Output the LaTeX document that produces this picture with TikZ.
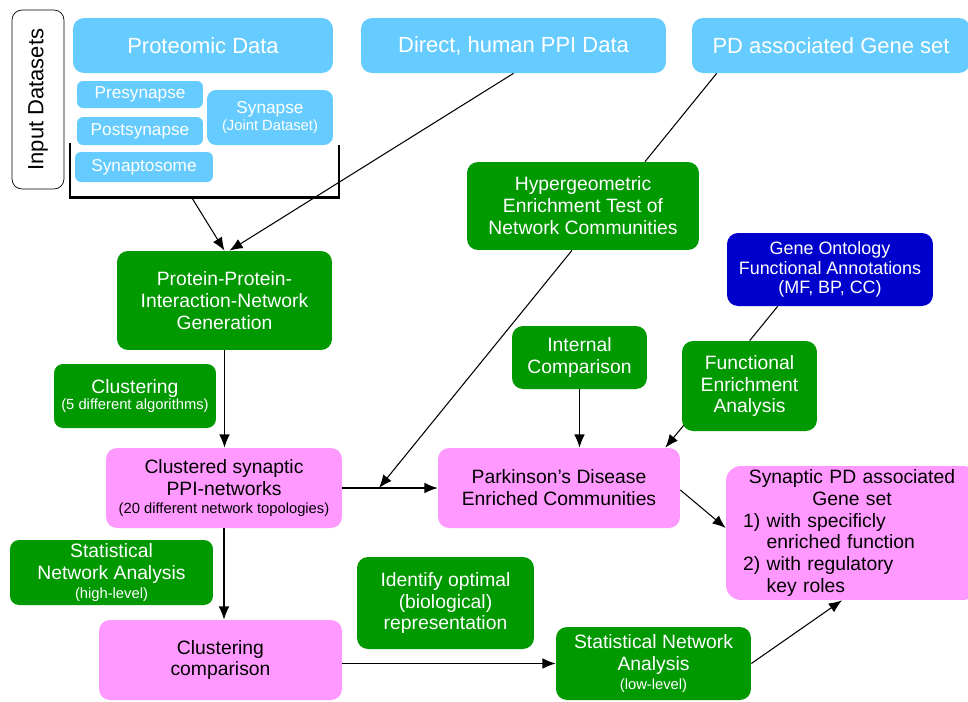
\documentclass[tikz,border=0pt]{standalone}
\usepackage{fontspec}
\setmainfont{Liberation Sans}
\usepackage{xcolor}
\usepackage{tikz}
\usetikzlibrary{arrows.meta,calc,positioning}
\definecolor{inblue}{HTML}{66CCFF}
\definecolor{stepgreen}{HTML}{009900}
\definecolor{resultpink}{HTML}{FF99FF}
\definecolor{gonavy}{HTML}{0000CC}
\newcommand{\subtxt}[1]{{\fontsize{8.4}{10}\selectfont #1}}
\tikzstyle{flow}=[
  >={Latex[length=7.5pt,width=6pt]}, x=0.02cm, y=-0.02cm,
  font=\fontsize{11}{12.5}\selectfont
]
\tikzstyle{roundbox}=[
  rounded corners=0.22cm, inner sep=0pt, align=center
]
\tikzstyle{datanode}=[roundbox, fill=inblue, text=white]
\tikzstyle{stepnode}=[roundbox, fill=stepgreen, text=white]
\tikzstyle{resultnode}=[roundbox, fill=resultpink, text=black]
\tikzstyle{gonode}=[roundbox, fill=gonavy, text=white]
\tikzstyle{bigtext}=[font=\fontsize{12.5}{14}\selectfont]
\tikzstyle{midtext}=[font=\fontsize{9.8}{11.5}\selectfont]
\tikzstyle{edgeline}=[line width=0.6pt]
\tikzstyle{bracket}=[line width=1.7pt, line join=miter]

\begin{document}
\begin{tikzpicture}[flow]
  \useasboundingbox (0,0) rectangle (968,701);

  % input data
  \node (inputs) at (38,99.5) [draw, rounded corners=0.2cm, rotate=90, minimum width=3.58cm, minimum height=1.04cm, bigtext] {Input Datasets};
  \node (proteomic) at (203,45.5) [datanode, minimum width=5.2cm, minimum height=1.1cm, bigtext] {Proteomic Data};
  \node (presyn) at (140,94.5) [datanode, rounded corners=0.12cm, minimum width=2.52cm, minimum height=0.54cm, midtext] {Presynapse};
  \node (postsyn) at (140,131) [datanode, rounded corners=0.12cm, minimum width=2.52cm, minimum height=0.56cm, midtext] {Postsynapse};
  \node (synapto) at (144,167) [datanode, rounded corners=0.12cm, minimum width=2.76cm, minimum height=0.6cm, midtext] {Synaptosome};
  \node (synapse) at (270,117.5) [datanode, rounded corners=0.18cm, minimum width=2.52cm, minimum height=1.1cm, midtext] {Synapse\\[-2pt]\subtxt{(Joint Dataset)}};
  \node (direct) at (513.5,45.5) [datanode, minimum width=6.1cm, minimum height=1.1cm, bigtext] {Direct, human PPI Data};
  \node (pd) at (831,45.5) [datanode, minimum width=5.56cm, minimum height=1.1cm, bigtext] {PD associated Gene set};
  \draw[bracket] (70,143) |- (339,197) -- (339,145);
  \coordinate (bracketbase) at (192,198);

  % processing steps
  \node (ppigen) at (224.5,300.5) [stepnode, minimum width=4.3cm, minimum height=1.98cm] {Protein-Protein-\\Interaction-Network\\Generation};
  \node (clustering) at (135,396) [stepnode, rounded corners=0.18cm, minimum width=3.24cm, minimum height=1.28cm] {Clustering\\[-3pt]\subtxt{(5 different algorithms)}};
  \node (hyper) at (583,206) [stepnode, minimum width=4.64cm, minimum height=1.76cm] {Hypergeometric\\Enrichment Test of\\Network Communities};
  \node (gene) at (830,269.5) [gonode, minimum width=4.12cm, minimum height=1.46cm, font=\fontsize{10.2}{11.3}\selectfont] {Gene Ontology\\Functional Annotations\\(MF, BP, CC)};
  \node (internal) at (579.5,357.5) [stepnode, minimum width=2.7cm, minimum height=1.26cm] {Internal\\Comparison};
  \node (functional) at (749.5,386) [stepnode, minimum width=2.7cm, minimum height=1.8cm] {Functional\\Enrichment\\Analysis};
  \node (stathigh) at (111.5,572.5) [stepnode, rounded corners=0.18cm, minimum width=4.06cm, minimum height=1.3cm] {Statistical\\Network Analysis\\[-2pt]\subtxt{(high-level)}};
  \node (identify) at (445.5,603) [stepnode, minimum width=3.54cm, minimum height=1.84cm] {Identify optimal\\(biological)\\representation};
  \node (statlow) at (653.5,663.5) [stepnode, minimum width=3.9cm, minimum height=1.46cm] {Statistical Network\\Analysis\\[-2pt]\subtxt{(low-level)}};

  % results
  \node (clustered) at (224,488) [resultnode, minimum width=4.72cm, minimum height=1.6cm] {Clustered synaptic\\PPI-networks\\[-2pt]\subtxt{(20 different network topologies)}};
  \node (pdcomm) at (559,488) [resultnode, minimum width=4.84cm, minimum height=1.6cm] {Parkinson’s Disease\\Enriched Communities};
  \node (clustcomp) at (220.5,660) [resultnode, minimum width=4.86cm, minimum height=1.6cm] {Clustering\\comparison};
  \node (synaptic) at (852,533) [resultnode, rounded corners=0.3cm, minimum width=5.04cm, minimum height=2.68cm, text width=4.36cm, align=left] {\makebox[\linewidth]{Synaptic PD associated}\\\makebox[\linewidth]{Gene set}\\1) with specificly\\\phantom{1) }enriched function\\2) with regulatory\\\phantom{2) }key roles};

  \coordinate (join) at (379,488);

  \draw[edgeline,->] (bracketbase) -- (ppigen.north);
  \draw[edgeline,->] (direct.south) -- ([xshift=0.1cm]ppigen.north);
  \draw[edgeline] ($(pd.south west)+(25,0)$) -- ($(hyper.north)+(62,0)$);
  \draw[edgeline,->] ($(hyper.south)+(-11,0)$) -- (join);
  \draw[edgeline,->] (ppigen.south) -- (ppigen.south |- clustered.north);
  \draw[edgeline,->] (clustered.east) -- (pdcomm.west);
  \draw[edgeline,->] (internal.south) -- (internal.south |- pdcomm.north);
  \draw[edgeline] ($(gene.south west)+(51,0)$) -- ($(functional.north west)+(68,0)$);
  \draw[edgeline,->] ($(functional.south west)+(2,-6)$) -- ($(pdcomm.north east)+(-15,0)$);
  \draw[edgeline,->] ($(pdcomm.east)+(0,2)$) -- ($(synaptic.west)+(0,-5)$);
  \draw[edgeline,->] (clustered.south) -- (clustered.south |- clustcomp.north);
  \draw[edgeline,->] (clustcomp.east |- statlow.west) -- (statlow.west);
  \draw[edgeline,->] (statlow.east) -- ($(synaptic.south)+(-10,0)$);
\end{tikzpicture}
\end{document}
